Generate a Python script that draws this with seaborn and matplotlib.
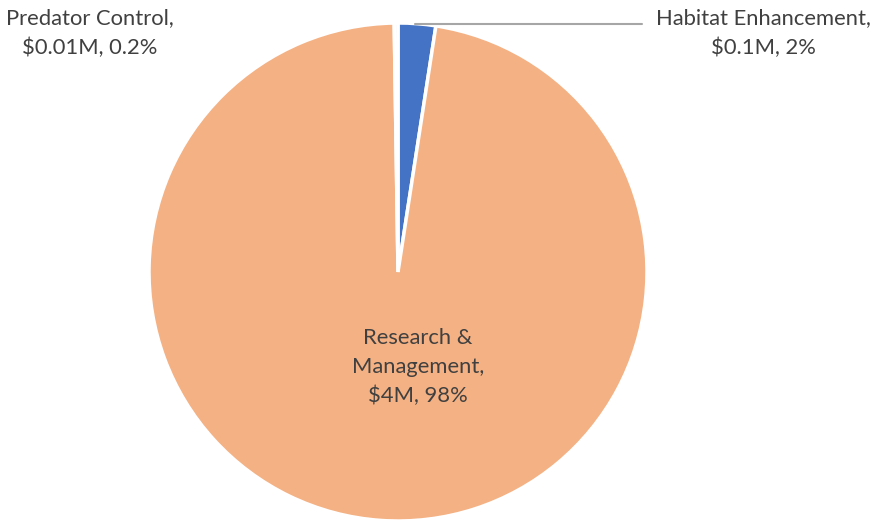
import matplotlib.pyplot as plt
import seaborn as sns

# Data
categories = ["Habitat Enhancement", "Research &\nManagement", "Predator Control"]
values = [0.1, 4.0, 0.01]          # $M
amount_labels = ["$0.1M", "$4M", "$0.01M"]
pct_labels = ["2%", "98%", "0.2%"]
colors = ["#4472C4", "#F4B183", "#F4F4F4"]

sns.set_theme(style="white")
plt.rcParams['font.family'] = ['Lato', 'DejaVu Sans']

W, H = 873, 521
fig = plt.figure(figsize=(W / 100, H / 100), dpi=100)
cx, cy, r = 398, 272, 249
ax = fig.add_axes([(cx - r) / W, (H - cy - r) / H, 2 * r / W, 2 * r / H])

wedges, _ = ax.pie(values, colors=colors, startangle=90, counterclock=False,
                   wedgeprops=dict(edgecolor="white", linewidth=2.5))
ax.set_aspect("equal")
ax.set_xlim(-1, 1)
ax.set_ylim(-1, 1)
ax.axis("off")

txt = "#404040"
fs = 15.8
ls = 1.55

def px(x, y):
    return (x / W, 1 - y / H)

# Habitat Enhancement label with leader line
fig.add_artist(plt.Line2D([415 / W, 642 / W], [1 - 24 / H, 1 - 24 / H],
                          color="#A6A6A6", lw=1.5))
fig.text(*px(763, 33), f"{categories[0]},\n{amount_labels[0]}, {pct_labels[0]}",
         ha="center", va="center", color=txt, fontsize=fs, linespacing=ls)

# Research & Management label inside
fig.text(*px(418, 367), f"{categories[1]},\n{amount_labels[1]}, {pct_labels[1]}",
         ha="center", va="center", color=txt, fontsize=fs, linespacing=ls)

# Predator Control label
fig.text(*px(90, 33), f"{categories[2]},\n{amount_labels[2]}, {pct_labels[2]}",
         ha="center", va="center", color=txt, fontsize=fs, linespacing=ls)

fig.savefig("out.png", dpi=100)
